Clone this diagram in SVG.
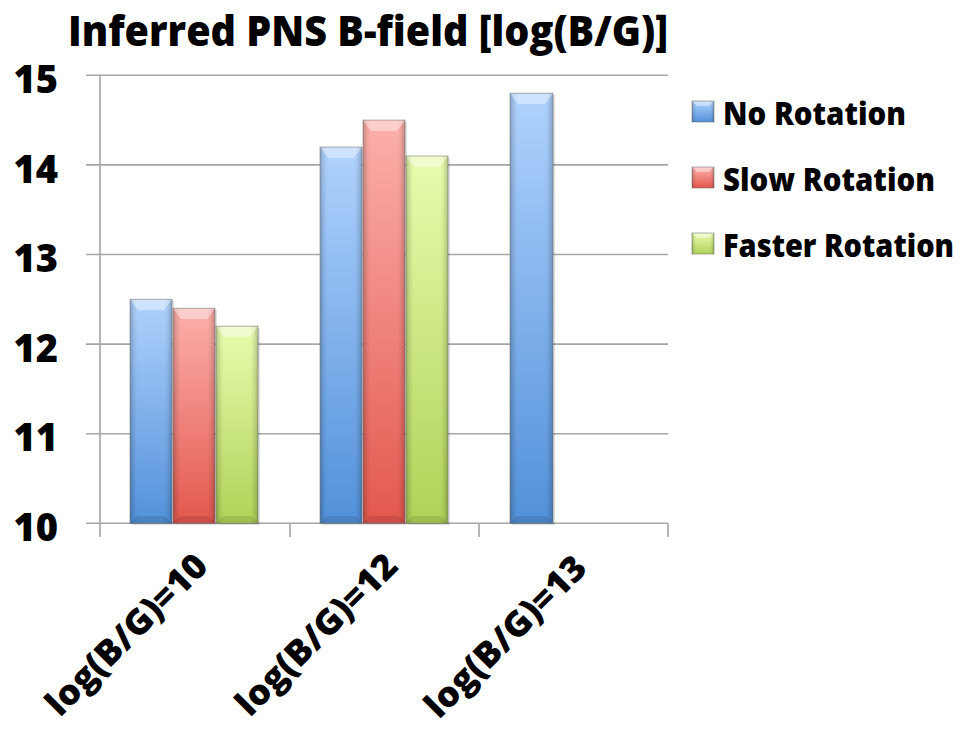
<svg xmlns="http://www.w3.org/2000/svg" width="975" height="731" viewBox="0 0 975 731">
<defs>
<style>
.t{font-family:"Open Sans",Lato,"Liberation Sans",sans-serif;font-weight:800;fill:#000}
.grid{stroke:#a6a6a6;stroke-width:1.6;fill:none}
.edge{fill:url(#edgeH)}
.topb{fill:#fff;fill-opacity:0.4}
.botb{fill:#000;fill-opacity:0.1}
.out{fill:none;stroke:#6f6f6f;stroke-opacity:0.55;stroke-width:1}
.shd{fill:#000;fill-opacity:0.12}
</style>
<linearGradient id="blueV" x1="0" y1="0" x2="0" y2="1"><stop offset="0" stop-color="#b0d2fd"/><stop offset="1" stop-color="#5291da"/></linearGradient>
<linearGradient id="redV" x1="0" y1="0" x2="0" y2="1"><stop offset="0" stop-color="#fcb0ab"/><stop offset="1" stop-color="#e3584e"/></linearGradient>
<linearGradient id="greenV" x1="0" y1="0" x2="0" y2="1"><stop offset="0" stop-color="#e8fcae"/><stop offset="1" stop-color="#b0d258"/></linearGradient>
<linearGradient id="edgeH" x1="0" y1="0" x2="1" y2="0">
<stop offset="0" stop-color="#000" stop-opacity="0.22"/><stop offset="0.1" stop-color="#000" stop-opacity="0.06"/><stop offset="0.18" stop-color="#000" stop-opacity="0"/>
<stop offset="0.82" stop-color="#000" stop-opacity="0"/><stop offset="0.9" stop-color="#000" stop-opacity="0.06"/><stop offset="1" stop-color="#000" stop-opacity="0.22"/>
</linearGradient>
</defs>
<rect width="975" height="731" fill="#fff"/>

<g id="title"><text class="t" x="68" y="46" font-size="42" textLength="600" lengthAdjust="spacingAndGlyphs">Inferred PNS B-field [log(B/G)]</text></g>

<g id="axes">
<path class="grid" d="M86 75.3H668M86 164.9H668M86 254.5H668M86 344.1H668M86 433.7H668M86 523.3H668M100 75.3V537M290 523.3V537M479 523.3V537M668 523.3V537"/>
</g>
<g id="ylabels" class="t" font-size="38" text-anchor="end">
<text x="58" y="93">15</text>
<text x="58" y="182.5">14</text>
<text x="58" y="272">13</text>
<text x="58" y="361.5">12</text>
<text x="58" y="451">11</text>
<text x="58" y="541">10</text>
</g>

<g id="bars">
<g id="g1-blue"><rect class="shd" x="132" y="301" width="42" height="224"/><rect x="130" y="299.3" width="42" height="224" fill="url(#blueV)"/><rect class="edge" x="130" y="299.3" width="42" height="224"/><polygon class="topb" points="130,299.3 172,299.3 164,310 138,310"/><polygon class="botb" points="130,523.3 172,523.3 165,516 137,516"/><rect class="out" x="130" y="299.3" width="42" height="224"/></g>
<g id="g1-red"><rect class="shd" x="175" y="310" width="42" height="215"/><rect x="173" y="308.3" width="42" height="215" fill="url(#redV)"/><rect class="edge" x="173" y="308.3" width="42" height="215"/><polygon class="topb" points="173,308.3 215,308.3 207,319 181,319"/><polygon class="botb" points="173,523.3 215,523.3 208,516 180,516"/><rect class="out" x="173" y="308.3" width="42" height="215"/></g>
<g id="g1-green"><rect class="shd" x="218" y="328" width="42" height="197"/><rect x="216" y="326.2" width="42" height="197.1" fill="url(#greenV)"/><rect class="edge" x="216" y="326.2" width="42" height="197.1"/><polygon class="topb" points="216,326.2 258,326.2 250,337 224,337"/><polygon class="botb" points="216,523.3 258,523.3 251,516 223,516"/><rect class="out" x="216" y="326.2" width="42" height="197.1"/></g>

<g id="g2-blue"><rect class="shd" x="322" y="149" width="42" height="376"/><rect x="320" y="147" width="42" height="376.3" fill="url(#blueV)"/><rect class="edge" x="320" y="147" width="42" height="376.3"/><polygon class="topb" points="320,147 362,147 354,158 328,158"/><polygon class="botb" points="320,523.3 362,523.3 355,516 327,516"/><rect class="out" x="320" y="147" width="42" height="376.3"/></g>
<g id="g2-red"><rect class="shd" x="365" y="122" width="42" height="403"/><rect x="363" y="120.1" width="42" height="403.2" fill="url(#redV)"/><rect class="edge" x="363" y="120.1" width="42" height="403.2"/><polygon class="topb" points="363,120.1 405,120.1 397,131 371,131"/><polygon class="botb" points="363,523.3 405,523.3 398,516 370,516"/><rect class="out" x="363" y="120.1" width="42" height="403.2"/></g>
<g id="g2-green"><rect class="shd" x="408" y="158" width="42" height="367"/><rect x="406" y="156" width="42" height="367.3" fill="url(#greenV)"/><rect class="edge" x="406" y="156" width="42" height="367.3"/><polygon class="topb" points="406,156 448,156 440,167 414,167"/><polygon class="botb" points="406,523.3 448,523.3 441,516 413,516"/><rect class="out" x="406" y="156" width="42" height="367.3"/></g>

<g id="g3-blue"><rect class="shd" x="512" y="95" width="43" height="430"/><rect x="510" y="93.2" width="43" height="430.1" fill="url(#blueV)"/><rect class="edge" x="510" y="93.2" width="43" height="430.1"/><polygon class="topb" points="510,93.2 553,93.2 545,104 518,104"/><polygon class="botb" points="510,523.3 553,523.3 546,516 517,516"/><rect class="out" x="510" y="93.2" width="43" height="430.1"/></g>
</g>

<g id="xlabels" class="t" font-size="35" text-anchor="end">
<text transform="translate(210,568) rotate(-45)" textLength="212" lengthAdjust="spacingAndGlyphs">log(B/G)=10</text>
<text transform="translate(400,568) rotate(-45)" textLength="212" lengthAdjust="spacingAndGlyphs">log(B/G)=12</text>
<text transform="translate(589,570) rotate(-45)" textLength="212" lengthAdjust="spacingAndGlyphs">log(B/G)=13</text>
</g>

<g id="legend">
<g id="leg-no"><rect x="692" y="101" width="22" height="21" fill="url(#blueV)"/><rect class="edge" x="692" y="101" width="22" height="21"/><polygon class="topb" points="692,101 714,101 709,106 697,106"/><rect class="out" x="692" y="101" width="22" height="21"/>
<text class="t" x="723" y="125" font-size="31" textLength="183" lengthAdjust="spacingAndGlyphs">No Rotation</text></g>
<g id="leg-slow"><rect x="692" y="167" width="22" height="21" fill="url(#redV)"/><rect class="edge" x="692" y="167" width="22" height="21"/><polygon class="topb" points="692,167 714,167 709,172 697,172"/><rect class="out" x="692" y="167" width="22" height="21"/>
<text class="t" x="723" y="191" font-size="31" textLength="212" lengthAdjust="spacingAndGlyphs">Slow Rotation</text></g>
<g id="leg-fast"><rect x="692" y="233" width="22" height="21" fill="url(#greenV)"/><rect class="edge" x="692" y="233" width="22" height="21"/><polygon class="topb" points="692,233 714,233 709,238 697,238"/><rect class="out" x="692" y="233" width="22" height="21"/>
<text class="t" x="723" y="257" font-size="31" textLength="231" lengthAdjust="spacingAndGlyphs">Faster Rotation</text></g>
</g>
</svg>
